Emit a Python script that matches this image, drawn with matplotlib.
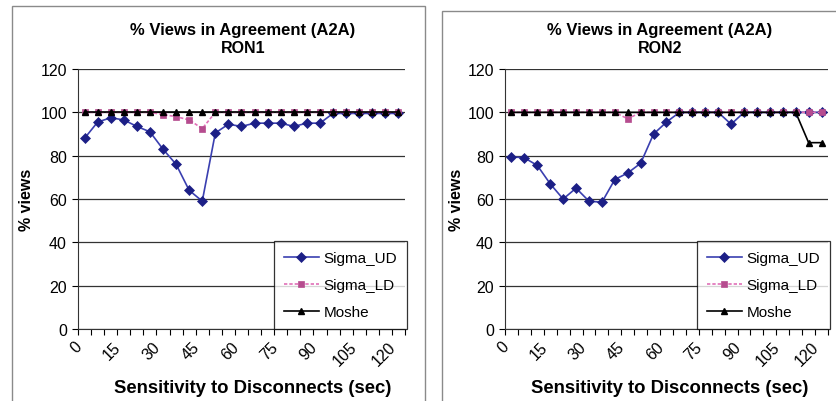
import matplotlib
matplotlib.use("Agg")
import matplotlib.pyplot as plt
from matplotlib.patches import Rectangle
from matplotlib.lines import Line2D

plt.rcParams["font.family"] = ["Liberation Sans", "DejaVu Sans"]

# disconnect sensitivity, seconds (one category every 5 s)
seconds = list(range(0, 125, 5))
tick_labels = [str(s) for s in range(0, 125, 15)]

ron1_sigma_ud = [88, 95.5, 97.5, 96.5, 93.5, 91, 83, 76, 64, 59,
                 90.5, 94.5, 93.5, 95, 95, 95, 93.5, 95, 95, 99.5,
                 99.5, 99.5, 99.5, 99.5, 99.5]
ron1_sigma_ld = [100, 100, 100, 100, 100, 100, 99, 98, 96.5, 92.5,
                 100, 100, 100, 100, 100, 100, 100, 100, 100, 100,
                 100, 100, 100, 100, 100]
ron1_moshe = [100] * 25

ron2_sigma_ud = [79.5, 79, 75.5, 67, 60, 65, 59, 58.5, 69, 72,
                 76.5, 90, 95.5, 100, 100, 100, 100, 94.5, 100, 100,
                 100, 100, 100, 100, 100]
ron2_sigma_ld = [100, 100, 100, 100, 100, 100, 100, 100, 100, 97,
                 100, 100, 100, 100, 100, 100, 100, 100, 100, 100,
                 100, 100, 100, 100, 100]
ron2_moshe = [100, 100, 100, 100, 100, 100, 100, 100, 100, 100,
              100, 100, 100, 100, 100, 100, 100, 100, 100, 100,
              100, 100, 100, 86, 86]

W, H = 837, 402
fig = plt.figure(figsize=(W / 100, H / 100), dpi=100)
fig.patch.set_facecolor("white")

UD_LINE, UD_MARK = "#3a3fb0", "#1c1f86"
LD_LINE, LD_MARK = "#e070b8", "#b64c8f"

ud_style = dict(color=UD_LINE, lw=1.2, marker="D", ms=5.5, mew=0.5, mfc=UD_MARK, mec=UD_MARK)
ld_style = dict(color=LD_LINE, lw=1.2, ls=(0, (2, 1.2)), marker="s", ms=5, mew=0.5,
                mfc=LD_MARK, mec=LD_MARK)
moshe_style = dict(color="black", lw=1.2, marker="^", ms=4.5, mfc="black", mec="black")


def px(x0, y0, x1, y1):
    # pixel box -> figure fraction [left, bottom, width, height]
    return [x0 / W, 1 - y1 / H, (x1 - x0) / W, (y1 - y0) / H]


def panel(border, box, title_x, ylabel_x, xlabel_x, name, ud, ld, moshe):
    bx0, by0, bx1 = border
    fig.add_artist(Rectangle((bx0 / W, -0.05), (bx1 - bx0) / W, 1 - by0 / H + 0.05,
                             transform=fig.transFigure, fill=False,
                             edgecolor="#8a8a8a", linewidth=1.0))
    ax = fig.add_axes(px(*box))
    idx = list(range(len(seconds)))
    ax.plot(idx, ud, zorder=3, **ud_style)
    ax.plot(idx, ld, zorder=4, **ld_style)
    ax.plot(idx, moshe, zorder=5, **moshe_style)

    ax.set_xlim(-0.5, len(seconds) - 0.5)
    ax.set_ylim(0, 120)
    ax.set_yticks(range(0, 121, 20))
    ax.yaxis.grid(True, color="#333333", lw=0.9)
    ax.set_axisbelow(True)
    for s in ("top", "right"):
        ax.spines[s].set_visible(False)
    ax.spines["left"].set_color("#333333")
    ax.spines["bottom"].set_color("#333333")
    ax.tick_params(axis="y", length=4, width=0.8, labelsize=11.5, pad=4)

    # category labels every 15 s, tick marks between categories
    ax.set_xticks(range(0, len(seconds), 3))
    ax.set_xticklabels(tick_labels, rotation=45, ha="right", va="top", fontsize=11.5)
    ax.set_xticks([i - 0.5 for i in range(len(seconds) + 1)], minor=True)
    ax.tick_params(axis="x", which="major", length=0, pad=7)
    ax.tick_params(axis="x", which="minor", length=4, width=0.8)

    fig.text(title_x / W, 1 - 30 / H, "% Views in Agreement (A2A)",
             ha="center", va="center", fontsize=12, fontweight="bold")
    fig.text(title_x / W, 1 - 49 / H, name,
             ha="center", va="center", fontsize=11.5, fontweight="bold")
    fig.text(ylabel_x / W, 1 - 200 / H, "% views", rotation=90,
             ha="center", va="center", fontsize=11.5, fontweight="bold")
    fig.text(xlabel_x / W, 1 - 389 / H, "Sensitivity to Disconnects (sec)",
             ha="center", va="center", fontsize=13.3, fontweight="bold")

    handles = [Line2D([], [], **ud_style), Line2D([], [], **ld_style),
               Line2D([], [], **moshe_style)]
    leg = ax.legend(handles, ["Sigma_UD", "Sigma_LD", "Moshe"], loc="lower right",
                    bbox_to_anchor=(1.006, 0.0), fontsize=11, frameon=True,
                    fancybox=False, edgecolor="black", handlelength=2.3,
                    labelspacing=0.85, borderpad=0.65, handletextpad=0.3,
                    borderaxespad=0)
    leg.get_frame().set_linewidth(0.9)
    return ax


panel((12, 7, 425), (78, 70, 405, 330), 243, 27, 253, "RON1",
      ron1_sigma_ud, ron1_sigma_ld, ron1_moshe)
panel((442, 12, 845), (505, 70, 828, 330), 660, 457, 670, "RON2",
      ron2_sigma_ud, ron2_sigma_ld, ron2_moshe)

fig.savefig("out.png", dpi=100, facecolor="white")
